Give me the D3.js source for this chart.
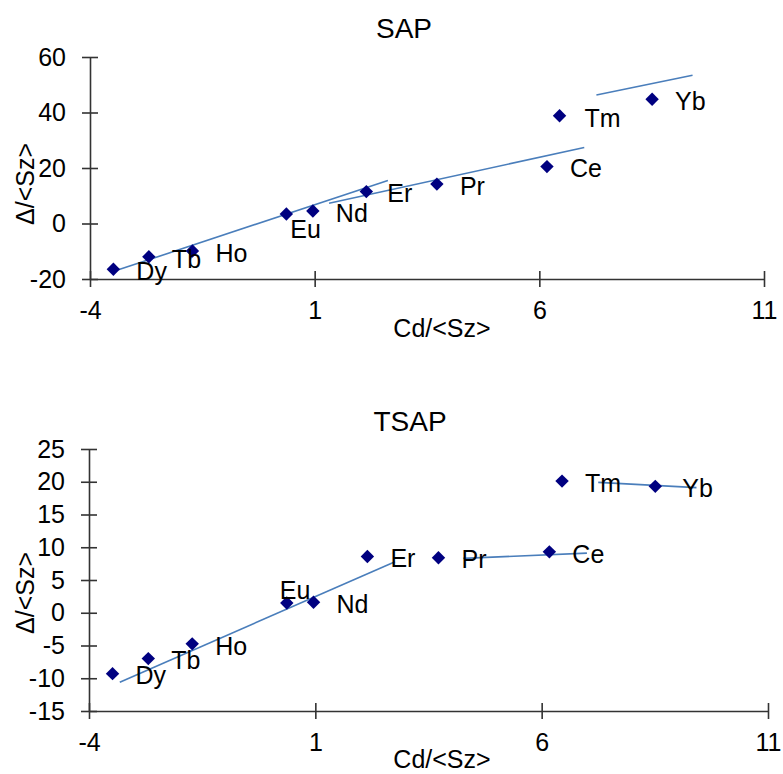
<!DOCTYPE html>
<html>
<head>
<meta charset="utf-8">
<script src="https://cdn.jsdelivr.net/npm/d3@7/dist/d3.min.js"></script>
<style>
  html, body { margin: 0; padding: 0; background: #fff; }
  svg { display: block; font-family: "Liberation Sans", Arial, sans-serif; }
</style>
</head>
<body>
<svg id="chart" width="783" height="774"></svg>
<script>
// Rare-earth elements and their Cd/<Sz> values (shared by both panels)
const elements = ["Dy", "Tb", "Ho", "Eu", "Nd", "Er", "Pr", "Ce", "Tm", "Yb"];
const cdSz = [-3.48, -2.69, -1.72, 0.37, 0.96, 2.15, 3.72, 6.17, 6.45, 8.51];

// Δ/<Sz> for the SAP and TSAP series
const sapValues  = [-16.5, -12.0, -9.9, 3.4, 4.5, 11.5, 14.2, 20.5, 38.8, 44.8];
const tsapValues = [-9.3, -7.0, -4.75, 1.5, 1.6, 8.6, 8.4, 9.3, 20.1, 19.3];

// Linear trend segments [x1, y1, x2, y2]
const sapTrends  = [[-3.37, -16.7, 2.63, 15.5], [1.32, 7.3, 7.0, 27.4], [7.27, 46.3, 9.41, 53.4]];
const tsapTrends = [[-3.32, -10.6, 2.76, 7.8], [4.27, 8.3, 7.0, 9.1], [7.25, 19.9, 9.42, 19.1]];

// Axis ticks
const xTicks = [-4, 1, 6, 11];
const sapYTicks = [-20, 0, 20, 40, 60];
const tsapYTicks = [-15, -10, -5, 0, 5, 10, 15, 20, 25];

const svg = d3.select("#chart");
const FONT = 25;

function panel(opts) {
  const g = svg.append("g");
  const x = d3.scaleLinear().domain([-4, 11]).range([opts.left, opts.right]);
  const y = d3.scaleLinear().domain(opts.yDomain).range([opts.bottom, opts.top]);

  // title
  g.append("text")
    .attr("x", opts.titleX).attr("y", opts.titleY)
    .attr("text-anchor", "middle")
    .attr("font-size", 28).attr("fill", "#000")
    .text(opts.title);

  // y axis with crossing ticks
  const yAxis = d3.axisLeft(y).tickValues(opts.yTicks).tickSize(8).tickSizeOuter(0);
  const ya = g.append("g").attr("transform", `translate(${x(-4)},0)`).call(yAxis);
  ya.select(".domain").attr("stroke", "#333").attr("stroke-width", 1.6);
  ya.selectAll(".tick line").attr("x1", -8).attr("x2", 8).attr("stroke", "#333").attr("stroke-width", 1.6);
  ya.selectAll(".tick text").attr("x", -24).attr("font-size", FONT)
    .attr("font-family", "Liberation Sans, Arial, sans-serif").attr("fill", "#000")
    .text(d => d < 0 ? "-" + Math.abs(d) : d);

  // x axis with crossing ticks, drawn at the bottom of the value range
  const xAxis = d3.axisBottom(x).tickValues(xTicks).tickSize(8).tickSizeOuter(0)
    .tickFormat(d => d < 0 ? "-" + Math.abs(d) : String(d));
  const xa = g.append("g").attr("transform", `translate(0,${y(opts.yDomain[0])})`).call(xAxis);
  xa.select(".domain").attr("stroke", "#333").attr("stroke-width", 1.6);
  xa.selectAll(".tick line").attr("y1", -8).attr("y2", 8).attr("stroke", "#333").attr("stroke-width", 1.6);
  xa.selectAll(".tick text").attr("y", 22).attr("dy", "0.71em").attr("font-size", FONT)
    .attr("font-family", "Liberation Sans, Arial, sans-serif").attr("fill", "#000");

  // axis titles
  g.append("text")
    .attr("x", opts.xTitleX).attr("y", opts.xTitleY)
    .attr("text-anchor", "middle").attr("font-size", FONT).attr("fill", "#000")
    .text("Cd/<Sz>");
  g.append("text")
    .attr("transform", `translate(${opts.yTitleX},${opts.yTitleY}) rotate(-90)`)
    .attr("text-anchor", "middle").attr("dy", "0.35em").attr("font-size", FONT).attr("fill", "#000")
    .text("Δ/<Sz>");

  // trend segments
  g.append("g").selectAll("line").data(opts.trends).join("line")
    .attr("x1", d => x(d[0])).attr("y1", d => y(d[1]))
    .attr("x2", d => x(d[2])).attr("y2", d => y(d[3]))
    .attr("stroke", "#4A7EBB").attr("stroke-width", 1.6);

  // points
  const pts = elements.map((name, i) => ({ name, cx: cdSz[i], cy: opts.values[i] }));
  const sym = d3.symbol().type(d3.symbolSquare).size(90);
  g.append("g").selectAll("path").data(pts).join("path")
    .attr("d", sym)
    .attr("transform", d => `translate(${x(d.cx)},${y(d.cy)}) rotate(45)`)
    .attr("fill", "#000080");

  // point labels
  g.append("g").selectAll("text").data(pts).join("text")
    .attr("x", d => x(d.cx) + (opts.labelShift[d.name] || [23, 2])[0])
    .attr("y", d => y(d.cy) + (opts.labelShift[d.name] || [23, 2])[1])
    .attr("dy", "0.35em")
    .attr("font-size", FONT).attr("fill", "#000")
    .text(d => d.name);
}

panel({
  title: "SAP", titleX: 404, titleY: 38,
  left: 90, right: 764, top: 57, bottom: 279,
  yDomain: [-20, 60], yTicks: sapYTicks,
  values: sapValues, trends: sapTrends,
  xTitleX: 442, xTitleY: 337,
  yTitleX: 25, yTitleY: 184,
  labelShift: { Eu: [4, 15], Er: [21, 2], Tm: [25, 2] }
});

panel({
  title: "TSAP", titleX: 410, titleY: 431,
  left: 89, right: 768, top: 449, bottom: 711,
  yDomain: [-15, 25], yTicks: tsapYTicks,
  values: tsapValues, trends: tsapTrends,
  xTitleX: 442, xTitleY: 768,
  yTitleX: 25, yTitleY: 593,
  labelShift: { Eu: [-7, -13], Yb: [27, 2] }
});
</script>
</body>
</html>
